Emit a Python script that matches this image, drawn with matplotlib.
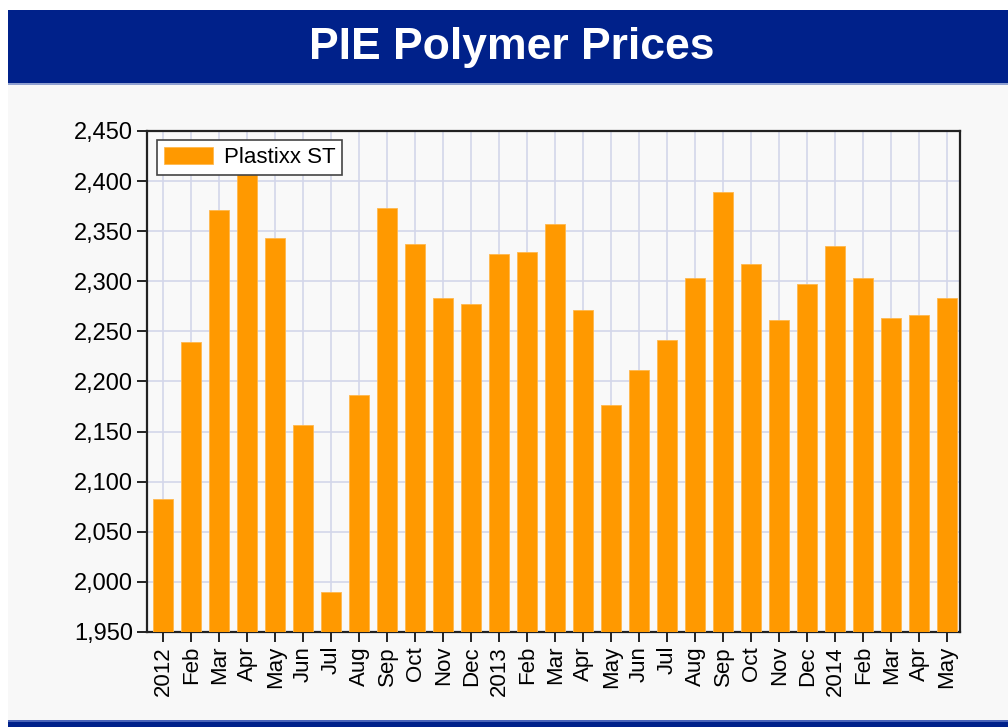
import matplotlib
matplotlib.use("Agg")
import matplotlib.pyplot as plt
from matplotlib.patches import Rectangle
from matplotlib.ticker import FuncFormatter, MultipleLocator
import numpy as np

# data
months = ["2012", "Feb", "Mar", "Apr", "May", "Jun", "Jul", "Aug", "Sep", "Oct", "Nov", "Dec",
          "2013", "Feb", "Mar", "Apr", "May", "Jun", "Jul", "Aug", "Sep", "Oct", "Nov", "Dec",
          "2014", "Feb", "Mar", "Apr", "May"]
prices = [2083, 2239, 2371, 2408, 2343, 2157, 1990, 2187, 2373, 2337, 2283, 2277,
          2327, 2329, 2357, 2271, 2177, 2211, 2241, 2303, 2389, 2317, 2261, 2297,
          2335, 2303, 2263, 2266, 2283]
series_name = "Plastixx ST"
title = "PIE Polymer Prices"

W, H = 1008, 727
plt.rcParams['font.family'] = ['Liberation Sans', 'DejaVu Sans']

fig = plt.figure(figsize=(W / 100, H / 100), dpi=100)
fig.patch.set_facecolor('white')

# page background, banner and bottom strip (drawn below the axes)
def band(x0, y0, w, h, c):
    fig.patches.append(Rectangle((x0 / W, y0 / H), w / W, h / H, transform=fig.transFigure,
                                 facecolor=c, edgecolor='none', zorder=-5))

band(8, 0, W - 8, H - 10, '#f8f8f8')
band(8, H - 83, W - 8, 73, '#00218a')
band(8, H - 85, W - 8, 2, '#8fa0d0')
band(8, 0, W - 8, 5, '#00218a')
band(8, 5, W - 8, 2, '#4a64b8')
fig.text(0.5075, 1 - 47 / H, title, color='white', fontsize=32, fontweight='bold',
         ha='center', va='center')

ax = fig.add_axes([147 / W, 1 - 632 / H, (960 - 147) / W, (632 - 131) / H])
ax.set_facecolor('#f9f9f9')

x = np.arange(len(months))
ax.bar(x, prices, width=0.72, color='#ff9900', edgecolor='#ffb84d', linewidth=0.6,
       label=series_name, zorder=3)

ax.set_ylim(1950, 2450)
ax.set_xlim(-0.58, len(months) - 0.54)
ax.yaxis.set_major_locator(MultipleLocator(50))
ax.yaxis.set_major_formatter(FuncFormatter(lambda v, p: f"{int(v):,}"))
ax.set_xticks(x)
ax.set_xticklabels(months, rotation=90, fontsize=16)
ax.tick_params(axis='y', labelsize=17, length=7, width=1.2, direction='out', pad=3)
ax.tick_params(axis='x', length=7, width=1.2, direction='out', pad=3)

ax.grid(True, color='#d3d7ea', linewidth=1.2, zorder=0)
ax.set_axisbelow(True)
for s in ax.spines.values():
    s.set_color('#222222')
    s.set_linewidth(1.6)

leg = ax.legend(loc='upper left', fontsize=16, frameon=True, fancybox=False,
                handlelength=2.2, handleheight=0.8, borderpad=0.3, handletextpad=0.5,
                borderaxespad=0, bbox_to_anchor=(0.0125, 0.982))
leg.get_frame().set_edgecolor('#444444')
leg.get_frame().set_linewidth(1.2)
leg.get_frame().set_facecolor('white')
leg.get_frame().set_alpha(1)
leg.set_zorder(5)

fig.savefig('out.png', dpi=100, facecolor=fig.get_facecolor())
